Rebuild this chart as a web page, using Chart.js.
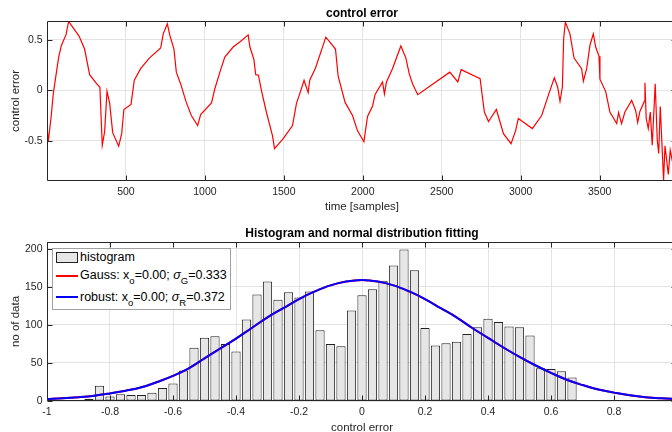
<!DOCTYPE html>
<html lang="en">
<head>
<meta charset="UTF-8">
<title>control error</title>
<script src="https://cdn.jsdelivr.net/npm/chart.js@4.4.1/dist/chart.umd.min.js"></script>
<style>
  html, body { margin: 0; padding: 0; background: #fff; }
  #wrap { position: relative; width: 672px; height: 432px; overflow: hidden;
          font-family: "Liberation Sans", Arial, sans-serif; }
  #wrap canvas { position: absolute; left: 0; }
  #errChart { top: 0; width: 690px; height: 215px; }
  #histChart { top: 212px; width: 690px; height: 223px; }
  .legend { position: absolute; left: 52px; top: 248px; width: 179px; height: 62px; box-sizing: border-box;
            border: 1px solid #a0a0a0; background: #fff; color: #000; font-size: 12.5px; }
  .legend .sw { position: absolute; left: 3px; width: 22px; }
  .legend .bar { top: 3px; height: 11px; box-sizing: border-box; background: #e6e6e6; border: 1px solid #222; }
  .legend .ln { height: 2px; }
  .legend .lt { position: absolute; left: 27px; line-height: 14px; white-space: nowrap; }
  .legend sub { font-size: 9.5px; vertical-align: baseline; position: relative; top: 5px; }
  .legend i { font-style: italic; }
</style>
</head>
<body>
<div id="wrap">
  <canvas id="errChart" width="690" height="215"></canvas>
  <canvas id="histChart" width="690" height="223"></canvas>
  <div class="legend">
    <span class="sw bar"></span>
    <span class="lt" style="top:1px">histogram</span>
    <span class="sw ln" style="top:25.5px;background:#ff0000"></span>
    <span class="lt" style="top:19.4px">Gauss: x<sub>o</sub>=0.00; <i>σ</i><sub>G</sub>=0.333</span>
    <span class="sw ln" style="top:46.5px;background:#0000ff"></span>
    <span class="lt" style="top:41.2px">robust: x<sub>o</sub>=0.00; <i>σ</i><sub>R</sub>=0.372</span>
  </div>
</div>

<script>
// top panel: control error over time (line vertices)
const sampleIdx = [0, 8, 27, 40, 57, 74, 91, 120, 137, 167, 203, 238, 270, 314, 335, 350, 365, 380, 397, 416,
  454, 473, 487, 532, 553, 593, 648, 720, 736, 762, 779, 804, 819, 846, 880, 914, 954, 973, 1042, 1063,
  1095, 1126, 1179, 1225, 1274, 1285, 1310, 1322, 1339, 1358, 1390, 1428, 1441, 1496, 1555, 1580, 1601, 1628, 1654, 1664,
  1700, 1766, 1827, 1844, 1888, 1935, 1966, 2007, 2030, 2062, 2078, 2125, 2137, 2150, 2188, 2241, 2273, 2294, 2315, 2348,
  2551, 2602, 2623, 2743, 2770, 2796, 2846, 2891, 2939, 2968, 2985, 3074, 3133, 3175, 3213, 3234, 3249, 3264, 3272, 3283,
  3312, 3338, 3386, 3397, 3418, 3439, 3460, 3475, 3496, 3502, 3538, 3565, 3608, 3620, 3639, 3660, 3703, 3728, 3741, 3755,
  3783, 3787, 3795, 3808, 3821, 3833, 3852, 3865, 3874, 3884, 3905, 3914, 3935, 3947, 3960, 3975, 3990];
const ctrlErr = [-0.34, -0.51, -0.25, -0.03, 0.15, 0.33, 0.445, 0.55, 0.683, 0.617, 0.538, 0.41, 0.155, 0.066, 0.03, -0.545, -0.41, -0.01, -0.13, -0.42,
  -0.555, -0.43, -0.19, -0.14, 0.10, 0.215, 0.32, 0.42, 0.56, 0.66, 0.54, 0.41, 0.18, 0.066, -0.11, -0.25, -0.35, -0.24, -0.125, 0.016,
  0.18, 0.33, 0.43, 0.485, 0.55, 0.43, 0.31, 0.155, 0.15, 0.0, -0.22, -0.45, -0.578, -0.48, -0.35, -0.13, -0.033, 0.10, -0.023, 0.10,
  0.22, 0.528, 0.41, 0.14, -0.12, -0.25, -0.40, -0.51, -0.26, -0.155, -0.04, 0.083, -0.036, 0.083, 0.215, 0.44, 0.32, 0.165, 0.066, -0.043,
  0.18, 0.083, 0.205, 0.115, -0.215, -0.31, -0.19, -0.43, -0.53, -0.40, -0.28, -0.38, -0.25, -0.05, 0.125, 0.033, -0.11, 0.033, 0.51, 0.677,
  0.56, 0.32, 0.215, 0.09, 0.215, 0.45, 0.56, 0.43, 0.337, 0.11, -0.01, -0.215, -0.33, -0.22, -0.33, -0.215, -0.10, -0.20, -0.32, -0.21,
  -0.11, 0.076, -0.28, -0.38, -0.215, -0.545, 0.066, -0.495, -0.627, -0.16, -0.89, -0.55, -0.835, -0.594, -0.70, -0.55, -0.65];
const errXTicks = [500, 1000, 1500, 2000, 2500, 3000, 3500];
const errYTicks = [-0.5, 0, 0.5];

// bottom panel: histogram of the error and the two fitted normal curves
const binCenters = [-0.9, -0.8667, -0.8333, -0.8, -0.7667, -0.7333, -0.7, -0.6667, -0.6333, -0.6,
  -0.5667, -0.5333, -0.5, -0.4667, -0.4333, -0.4, -0.3667, -0.3333, -0.3, -0.2667,
  -0.2333, -0.2, -0.1667, -0.1333, -0.1, -0.0667, -0.0333, 0, 0.0333, 0.0667,
  0.1, 0.1333, 0.1667, 0.2, 0.2333, 0.2667, 0.3, 0.3333, 0.3667, 0.4,
  0.4333, 0.4667, 0.5, 0.5333, 0.5667, 0.6, 0.6333, 0.6667];
const binCounts = [1, 3, 20, 6, 9, 8, 8, 11, 17, 23,
  40, 70, 83, 85, 75, 65, 107, 140, 157, 133,
  143, 136, 144, 93, 75, 72, 119, 139, 147, 158,
  178, 199, 172, 96, 73, 76, 78, 88, 97, 108,
  104, 98, 97, 86, 43, 42, 39, 31];
const fitX = [-1, -0.95, -0.9, -0.85, -0.8, -0.75, -0.7, -0.65, -0.6, -0.55, -0.5, -0.45, -0.4, -0.35, -0.3, -0.25, -0.2, -0.15, -0.1, -0.05,
  0, 0.05, 0.1, 0.15, 0.2, 0.25, 0.3, 0.35, 0.4, 0.45, 0.5, 0.55, 0.6, 0.65, 0.7, 0.75, 0.8, 0.85, 0.9, 0.95, 1];
const gaussFit = [2.5, 3.5, 5, 7, 10, 13.5, 18, 25, 33, 43, 56, 69, 82, 96, 110, 122, 134, 144, 152, 157,
  159, 157, 152, 144, 134, 122, 110, 96, 83, 70, 58, 47, 37, 28, 21, 15, 11, 7.5, 5, 3.5, 2.5];
const robustFit = [2.5, 3.5, 5, 7, 10, 13.5, 18, 25, 33, 43, 56, 69, 82, 96, 110, 122, 134, 144, 152, 157,
  159, 157, 152, 144, 134, 122, 110, 96, 83, 70, 58, 47, 37, 28, 21, 15, 11, 7.5, 5, 3.5, 2.5];
const histXTicks = [-1, -0.8, -0.6, -0.4, -0.2, 0, 0.2, 0.4, 0.6, 0.8, 1];
const histYTicks = [0, 50, 100, 150, 200];

Chart.defaults.font.family = '"Liberation Sans", Arial, sans-serif';
Chart.defaults.color = '#262626';
const gridCol = '#e3e3e3';

// box round the plot area with inward tick marks
const axesBox = {
  id: 'axesBox',
  afterDatasetsDraw(chart) {
    const { ctx, chartArea: a, scales: { x, y } } = chart;
    const L = Math.round(a.left) + 0.5, R = Math.round(a.right) - 0.5;
    const T = Math.round(a.top) + 0.5, B = Math.round(a.bottom) - 0.5;
    ctx.save();
    ctx.strokeStyle = '#262626';
    ctx.lineWidth = 1;
    ctx.beginPath();
    ctx.rect(L, T, R - L, B - T);
    x.ticks.forEach(t => {
      const px = Math.round(x.getPixelForValue(t.value)) + 0.5;
      ctx.moveTo(px, B); ctx.lineTo(px, B - 5);
      ctx.moveTo(px, T); ctx.lineTo(px, T + 5);
    });
    y.ticks.forEach(t => {
      const py = Math.round(y.getPixelForValue(t.value)) + 0.5;
      ctx.moveTo(L, py); ctx.lineTo(L + 5, py);
      ctx.moveTo(R, py); ctx.lineTo(R - 5, py);
    });
    ctx.stroke();
    ctx.restore();
  }
};

function xAxis(min, max, ticks, label, pad) {
  return {
    type: 'linear', min: min, max: max, offset: false,
    afterBuildTicks: s => { s.ticks = ticks.map(v => ({ value: v })); },
    ticks: { padding: 0, maxRotation: 0, autoSkip: false, font: { size: 10.5 }, callback: v => String(v) },
    grid: { color: gridCol, offset: false, tickLength: 4.4, tickColor: 'rgba(0,0,0,0)' },
    border: { display: false },
    title: { display: true, text: label, font: { size: 11.5 }, padding: pad }
  };
}

function yAxis(min, max, ticks, label) {
  return {
    min: min, max: max,
    afterBuildTicks: s => { s.ticks = ticks.map(v => ({ value: v })); },
    afterFit: s => { s.width = 47; },
    ticks: { padding: 0, font: { size: 10.5 }, callback: v => String(v) },
    grid: { color: gridCol, tickLength: 4.5, tickColor: 'rgba(0,0,0,0)' },
    border: { display: false },
    title: { display: true, text: label, font: { size: 11.5 }, padding: { top: 9.1, bottom: 0 } }
  };
}

new Chart(document.getElementById('errChart'), {
  type: 'line',
  data: {
    datasets: [{
      data: sampleIdx.map((s, i) => ({ x: s, y: ctrlErr[i] })),
      borderColor: '#ff0000',
      borderWidth: 1.2,
      pointRadius: 0,
      tension: 0
    }]
  },
  options: {
    responsive: false,
    animation: false,
    devicePixelRatio: 1,
    layout: { padding: { right: 13 } },
    plugins: {
      legend: { display: false },
      tooltip: { enabled: false },
      title: { display: true, text: 'control error', fullSize: false, color: '#000',
               font: { size: 12, weight: 'bold' }, padding: { top: 6.3, bottom: 0.3 } }
    },
    scales: {
      x: xAxis(0, 3990, errXTicks, 'time [samples]', { top: 1.8, bottom: 1.4 }),
      y: yAxis(-0.9, 0.688, errYTicks, 'control error')
    }
  },
  plugins: [axesBox]
});

new Chart(document.getElementById('histChart'), {
  type: 'bar',
  data: {
    datasets: [
      {
        label: 'histogram',
        data: binCenters.map((c, i) => ({ x: c, y: binCounts[i] })),
        backgroundColor: '#e6e6e6',
        borderColor: '#222',
        borderWidth: 1,
        borderSkipped: false,
        barPercentage: 0.88,
        categoryPercentage: 1,
        order: 3
      },
      {
        type: 'line',
        label: 'Gauss',
        data: fitX.map((v, i) => ({ x: v, y: gaussFit[i] })),
        borderColor: '#ff0000',
        borderWidth: 2,
        pointRadius: 0,
        tension: 0.4,
        order: 2
      },
      {
        type: 'line',
        label: 'robust',
        data: fitX.map((v, i) => ({ x: v, y: robustFit[i] })),
        borderColor: '#0000ff',
        borderWidth: 2,
        pointRadius: 0,
        tension: 0.4,
        order: 1
      }
    ]
  },
  options: {
    responsive: false,
    animation: false,
    devicePixelRatio: 1,
    layout: { padding: { right: 13 } },
    plugins: {
      legend: { display: false },
      tooltip: { enabled: false },
      title: { display: true, text: 'Histogram and normal distribution fitting', fullSize: false, color: '#000',
               font: { size: 12, weight: 'bold' }, padding: { top: 14.1, bottom: 1.5 } }
    },
    scales: {
      x: xAxis(-1, 1, histXTicks, 'control error', { top: 2.8, bottom: 0.4 }),
      y: yAxis(0, 209, histYTicks, 'no of data')
    }
  },
  plugins: [axesBox]
});
</script>
</body>
</html>
